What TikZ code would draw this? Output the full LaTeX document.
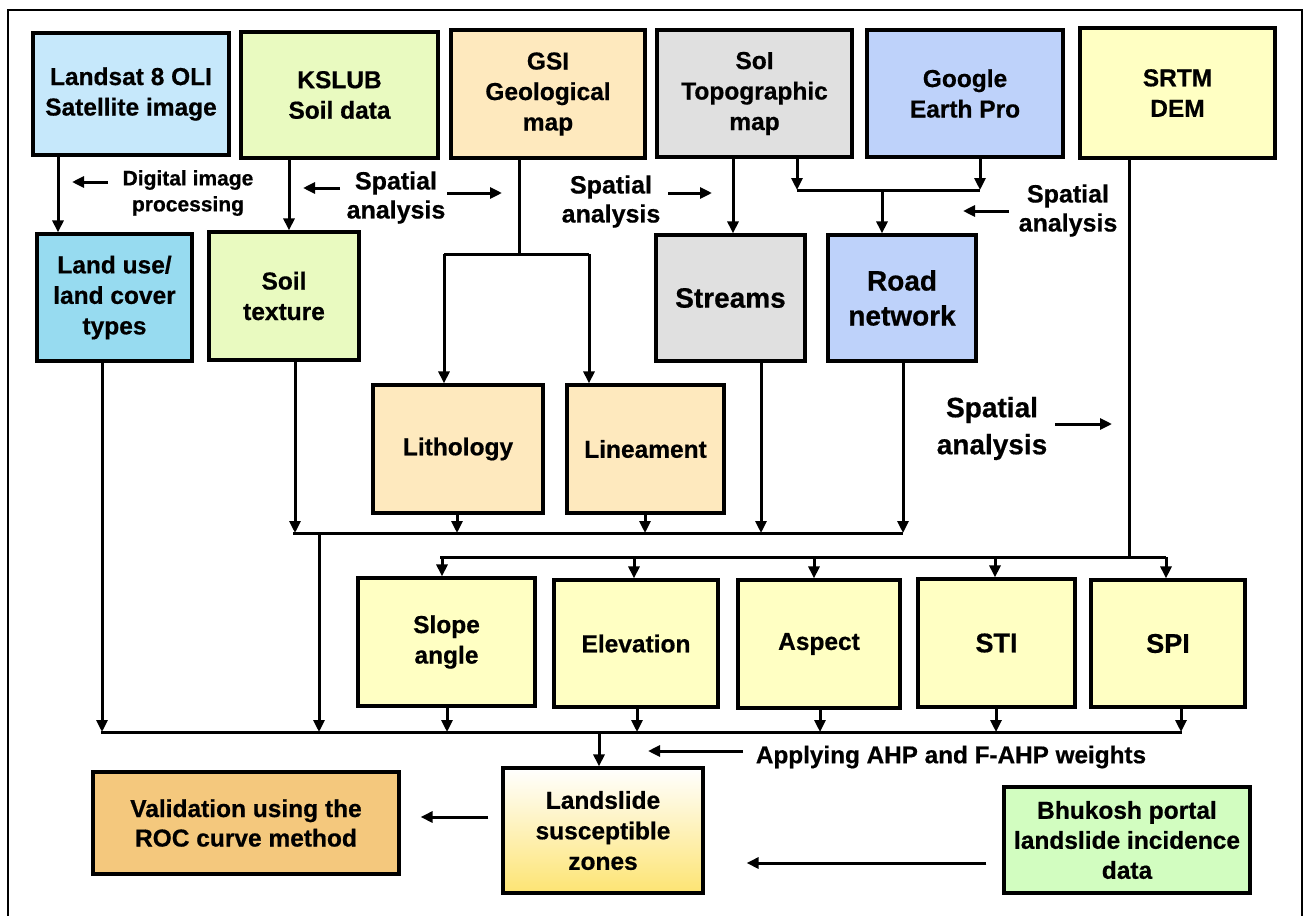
\documentclass[tikz,border=0pt]{standalone}
\usepackage{fontspec}
\setmainfont{Liberation Sans}[BoldFeatures={FakeBold=0.6}]
\usetikzlibrary{arrows.meta}
\definecolor{cLandsat}{RGB}{198,232,251}
\definecolor{cLanduse}{RGB}{151,219,240}
\definecolor{cSoil}{RGB}{233,250,192}
\definecolor{cGeo}{RGB}{254,233,190}
\definecolor{cGrey}{RGB}{224,224,224}
\definecolor{cBlue}{RGB}{190,210,250}
\definecolor{cDem}{RGB}{255,255,195}
\definecolor{cVal}{RGB}{244,200,125}
\definecolor{cBhu}{RGB}{210,253,192}
\definecolor{cLS}{RGB}{253,228,115}
\begin{document}
\begin{tikzpicture}[x=1pt,y=-1pt,
  box/.style={draw=black, line width=3.2pt, inner sep=0pt, align=center,
    font=\fontsize{24.5}{30.5}\selectfont\bfseries},
  bigtext/.style={font=\fontsize{28}{35}\selectfont\bfseries},
  lbl/.style={inner sep=0pt, align=center, font=\fontsize{25}{29}\selectfont\bfseries},
  line/.style={line width=3pt},
  arr/.style={line width=3pt, -{Triangle[length=12pt,width=11pt]}}]
\useasboundingbox (0,0) rectangle (1305,915);
\fill[white] (0,0) rectangle (1305,915);
% frame
\draw[line width=2.8pt] (8,916) -- (8,10) -- (1302,10) -- (1302,916);

% top row
\node[box, fill=cLandsat, minimum width=196pt, minimum height=122pt] (landsat) at (131,94) {Landsat 8 OLI\\Satellite image};
\node[box, fill=cSoil, minimum width=197pt, minimum height=126pt] (kslub) at (339.5,95) {KSLUB\\Soil data};
\node[box, fill=cGeo, minimum width=194pt, minimum height=128pt] (gsi) at (548,94) {GSI\\Geological\\map};
\node[box, fill=cGrey, minimum width=195pt, minimum height=127pt] (soi) at (754.5,93.5) {SoI\\Topographic\\map};
\node[box, fill=cBlue, minimum width=196pt, minimum height=127pt] (google) at (965,93.5) {Google\\Earth Pro};
\node[box, fill=cDem, minimum width=195pt, minimum height=130pt] (srtm) at (1177.5,93) {SRTM\\DEM};

% second row
\node[box, fill=cLanduse, minimum width=155pt, minimum height=127pt] (landuse) at (114.5,297.5) {Land use/\\land cover\\types};
\node[box, fill=cSoil, minimum width=150pt, minimum height=128pt] (soiltex) at (284,296) {Soil\\texture};
\node[box, bigtext, fill=cGrey, minimum width=149pt, minimum height=126pt] (streams) at (730.5,298) {Streams};
\node[box, bigtext, fill=cBlue, minimum width=148pt, minimum height=126pt] (road) at (902,298) {Road\\network};

% geology derived
\node[box, fill=cGeo, minimum width=170pt, minimum height=128pt] (litho) at (458,449) {Lithology};
\node[box, fill=cGeo, minimum width=157pt, minimum height=128pt] (linea) at (645.5,449) {Lineament};

% DEM derived
\node[box, fill=cDem, minimum width=177pt, minimum height=128pt] (slope) at (446.5,642) {Slope\\angle};
\node[box, fill=cDem, minimum width=164pt, minimum height=127pt] (elev) at (636,643.5) {Elevation};
\node[box, fill=cDem, minimum width=162pt, minimum height=128pt] (aspect) at (819,644) {Aspect};
\node[box, fill=cDem, font=\fontsize{27}{32}\selectfont\bfseries, minimum width=157pt, minimum height=128pt] (sti) at (996.5,643) {STI};
\node[box, fill=cDem, font=\fontsize{27}{32}\selectfont\bfseries, minimum width=154pt, minimum height=127pt] (spi) at (1168,643.5) {SPI};

% bottom row
\node[box, fill=cVal, minimum width=306pt, minimum height=102pt, font=\fontsize{24.5}{29.5}\selectfont\bfseries] (validation) at (246,823) {Validation using the\\ROC curve method};
\node[box, top color=white, bottom color=cLS, minimum width=200pt, minimum height=125pt] (landslide) at (603,830.5) {Landslide\\susceptible\\zones};
\node[box, fill=cBhu, minimum width=246pt, minimum height=106pt, font=\fontsize{24.5}{30}\selectfont\bfseries] (bhukosh) at (1127,840) {Bhukosh portal\\landslide incidence\\data};

% labels
\node[lbl, font=\fontsize{21}{26}\selectfont\bfseries] (lDigital) at (188,193) {Digital image\\processing};
\node[lbl] (lSpA) at (396,197.5) {Spatial\\analysis};
\node[lbl] (lSpB) at (611,201.5) {Spatial\\analysis};
\node[lbl] (lSpC) at (1068,210.5) {Spatial\\analysis};
\node[lbl, font=\fontsize{28}{37}\selectfont\bfseries] (lSpD) at (992,428.5) {Spatial\\analysis};
\node[lbl, font=\fontsize{24.3}{29}\selectfont\bfseries] (lAHP) at (951,757) {Applying AHP and F-AHP weights};

% label arrows
\coordinate (aD1) at (108,182); \coordinate (aD2) at (72,182);
\coordinate (aA1) at (340,188); \coordinate (aA2) at (303,188);
\coordinate (aA3) at (447,193); \coordinate (aA4) at (502,193);
\coordinate (aB1) at (668,193); \coordinate (aB2) at (712,193);
\coordinate (aC1) at (1009,211); \coordinate (aC2) at (963,211);
\coordinate (aE1) at (1055,424); \coordinate (aE2) at (1112,424);
\coordinate (aF1) at (743,751); \coordinate (aF2) at (648,751);
\draw[arr] (aD1) -- (aD2);
\draw[arr] (aA1) -- (aA2);
\draw[arr] (aA3) -- (aA4);
\draw[arr] (aB1) -- (aB2);
\draw[arr] (aC1) -- (aC2);
\draw[arr] (aE1) -- (aE2);
\draw[arr] (aF1) -- (aF2);

% x positions
\coordinate (xLS) at (58,0);
\coordinate (xKS) at (289,0);
\coordinate (xSt) at (733,0);
\coordinate (xSR) at (1129,0);

% top connectors
\draw[arr] (landsat.south -| xLS) -- (landuse.north -| xLS);
\draw[arr] (kslub.south -| xKS) -- (soiltex.north -| xKS);
\draw[arr] (soi.south -| xSt) -- (streams.north -| xSt);

% geology split
\coordinate (geoJ) at (519,254);
\coordinate (geoL) at (444,254);
\coordinate (geoR) at (589,254);
\draw[line] (gsi.south -| geoJ) -- (geoJ);
\draw[line] (geoL) -- (geoR);
\draw[arr] (geoL) -- (litho.north -| geoL);
\draw[arr] (geoR) -- (linea.north -| geoR);

% topo + google merge
\coordinate (tL) at (797,190);
\coordinate (tR) at (980,190);
\coordinate (tM) at (882,190);
\draw[arr] (soi.south -| tL) -- (tL);
\draw[arr] (google.south -| tR) -- (tR);
\draw[line] (tL) -- (tR);
\draw[arr] (tM) -- (road.north -| tM);

% bus 1
\coordinate (b1L) at (293,533);
\coordinate (b1R) at (903,533);
\coordinate (b1D) at (319,533);
\coordinate (b1a) at (295,533);
\coordinate (b1b) at (457,533);
\coordinate (b1c) at (645,533);
\coordinate (b1d) at (761,533);
\draw[line] (b1L) -- (b1R);
\draw[arr] (soiltex.south -| b1a) -- (b1a);
\draw[arr] (litho.south -| b1b) -- (b1b);
\draw[arr] (linea.south -| b1c) -- (b1c);
\draw[arr] (streams.south -| b1d) -- (b1d);
\draw[arr] (road.south -| b1R) -- (b1R);

% bus 2 (DEM)
\coordinate (b2L) at (440,557);
\coordinate (b2R) at (1166,557);
\coordinate (b2J) at (1129,557);
\draw[line] (srtm.south -| b2J) -- (b2J);
\draw[line] (b2L) -- (b2R);
\coordinate (b2a) at (442,557);
\coordinate (b2b) at (634,557);
\coordinate (b2c) at (814,557);
\coordinate (b2d) at (995,557);
\draw[arr] (b2a) -- (slope.north -| b2a);
\draw[arr] (b2b) -- (elev.north -| b2b);
\draw[arr] (b2c) -- (aspect.north -| b2c);
\draw[arr] (b2d) -- (sti.north -| b2d);
\draw[arr] (b2R) -- (spi.north -| b2R);

% bus 3
\coordinate (b3L) at (101,732);
\coordinate (b3R) at (1182,732);
\coordinate (b3a) at (102,732);
\coordinate (b3b) at (319,732);
\coordinate (b3c) at (447,732);
\coordinate (b3d) at (637,732);
\coordinate (b3e) at (820,732);
\coordinate (b3f) at (996,732);
\coordinate (b3g) at (1181,732);
\coordinate (b3o) at (599,732);
\draw[line] (b3L) -- (b3R);
\draw[arr] (landuse.south -| b3a) -- (b3a);
\draw[arr] (b1D) -- (b3b);
\draw[arr] (slope.south -| b3c) -- (b3c);
\draw[arr] (elev.south -| b3d) -- (b3d);
\draw[arr] (aspect.south -| b3e) -- (b3e);
\draw[arr] (sti.south -| b3f) -- (b3f);
\draw[arr] (spi.south -| b3g) -- (b3g);
\draw[arr] (b3o) -- (landslide.north -| b3o);

% bottom arrows
\coordinate (yV) at (0,817);
\coordinate (yB) at (0,863);
\draw[arr, shorten <=13pt, shorten >=20pt] (landslide.west |- yV) -- (validation.east |- yV);
\draw[arr, shorten <=16pt, shorten >=42pt] (bhukosh.west |- yB) -- (landslide.east |- yB);
\end{tikzpicture}
\end{document}
